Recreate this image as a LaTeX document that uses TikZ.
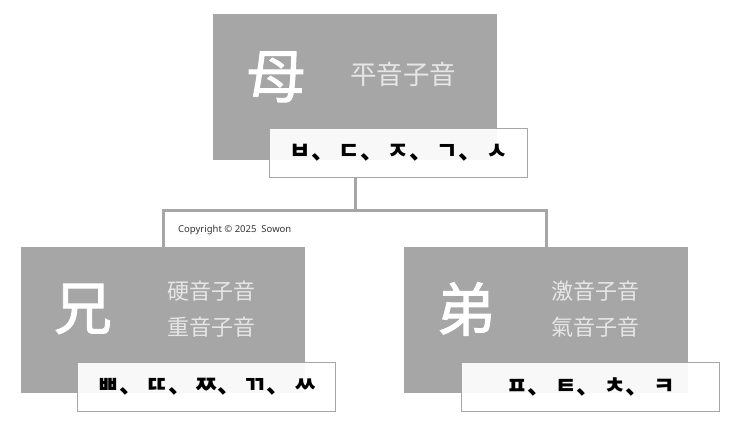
\documentclass[tikz,border=0pt]{standalone}
\usepackage{fontspec}
\setmainfont{Noto Sans}
\newfontfamily\kr{Noto Sans CJK KR}
\newfontfamily\krbig[FakeBold=1.6]{Noto Sans CJK KR}
\definecolor{boxgray}{HTML}{A6A6A6}
\definecolor{soundgray}{HTML}{E6E6E6}
\definecolor{notegray}{HTML}{333333}
\newcommand{\jsep}{、\hspace{4pt}}
\tikzset{
	graybox/.style={fill=boxgray, minimum width=284pt, minimum height=146pt, anchor=north west, inner sep=0pt},
	tagbox/.style={fill=white, fill opacity=0.92, text opacity=1, draw=boxgray, line width=1.2pt, minimum width=258pt, minimum height=49pt, anchor=north west, inner sep=0pt, font=\kr\bfseries\fontsize{23.5}{23.5}\selectfont},
	bigchar/.style={text=white, inner sep=0pt, font=\krbig\fontsize{58}{58}\selectfont},
	sound/.style={text=soundgray, inner sep=0pt, align=left, font=\kr\fontsize{22}{36}\selectfont},
	link/.style={draw=boxgray, line width=3pt},
}

\begin{document}
\begin{tikzpicture}[x=1pt, y=-1pt]
		%%%%% START %%%%%
		\useasboundingbox (0, 0) rectangle (740, 427);
		
		% mother
		\node[graybox] (mo) at (213, 14) {};
		\node[bigchar] (mochar) at (276, 77) {母};
		\node[sound, font=\kr\fontsize{26.5}{26.5}\selectfont] (mosound) at (403, 74) {平音子音};
		\node[tagbox] (motag) at (269, 128) {ㅂ\jsep ㄷ\jsep ㅈ\jsep ㄱ\jsep ㅅ};
		
		% elder brother
		\node[graybox] (hyung) at (21, 247) {};
		\node[bigchar] (hyungchar) at (83, 309) {兄};
		\node[sound] (hyungsound) at (211, 309) {硬音子音\\重音子音};
		\node[tagbox] (hyungtag) at (77, 362) {ㅃ\jsep ㄸ\jsep ㅉ\jsep ㄲ\jsep ㅆ};
		
		% younger brother
		\node[graybox] (jae) at (404, 247) {};
		\node[bigchar] (jaechar) at (466, 309) {弟};
		\node[sound] (jaesound) at (595, 309) {激音子音\\氣音子音};
		\node[tagbox] (jaetag) at (461, 362) {ㅍ\jsep ㅌ\jsep ㅊ\jsep ㅋ};
		
		% links
		\coordinate (fork) at (355, 211);
		\draw[link] (fork |- motag.south) -- (fork);
		\draw[link] (hyung.north) |- (fork) -| (jae.north);
		
		\node[text=notegray, font=\fontsize{9.5}{9.5}\selectfont, anchor=west, inner sep=0pt] (note) at (178, 230) {Copyright © 2025\ \ Sowon};
		%%%%% END %%%%%
\end{tikzpicture}
\end{document}
